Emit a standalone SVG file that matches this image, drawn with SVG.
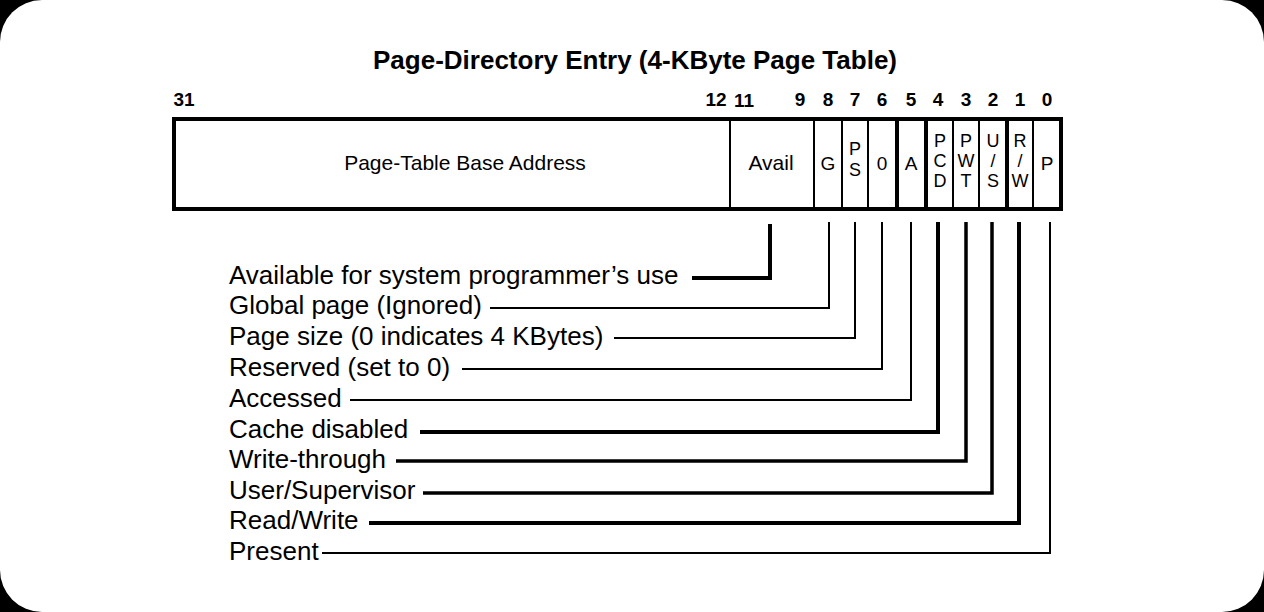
<svg xmlns="http://www.w3.org/2000/svg" width="1264" height="612" viewBox="0 0 1264 612">
<style>
text{font-family:"Liberation Sans",Arial,sans-serif;fill:#000}
.title{font-size:26px;font-weight:bold;text-anchor:middle}
.bit{font-size:19px;font-weight:bold;text-anchor:middle}
.cell{font-size:21px;text-anchor:middle}
.ltr{font-size:19px;text-anchor:middle}
.stk{font-size:18px;text-anchor:middle}
.lab{font-size:26px}
.thin{stroke:#000;stroke-width:2;fill:none}
.thick{stroke:#000;stroke-width:4;fill:none}
.mid{stroke:#000;stroke-width:3.5;fill:none}
</style>
<rect x="0" y="0" width="1264" height="612" fill="#000"/>
<rect x="0" y="0" width="1264" height="612" rx="42" ry="42" fill="#fff"/>
<text class="title" x="635" y="69">Page-Directory Entry (4-KByte Page Table)</text>
<g id="bits">
<text class="bit" x="184" y="106">31</text>
<text class="bit" x="716" y="106">12</text>
<text class="bit" x="744" y="107">11</text>
<text class="bit" x="800" y="106">9</text>
<text class="bit" x="828" y="106">8</text>
<text class="bit" x="855" y="106">7</text>
<text class="bit" x="882" y="106">6</text>
<text class="bit" x="911" y="106">5</text>
<text class="bit" x="938" y="106">4</text>
<text class="bit" x="966" y="106">3</text>
<text class="bit" x="993" y="106">2</text>
<text class="bit" x="1020" y="106">1</text>
<text class="bit" x="1047" y="106">0</text>
</g>
<g id="register">
<rect x="174" y="119" width="887" height="90" fill="#fff" stroke="#000" stroke-width="4"/>
<line class="thin" x1="730" y1="119" x2="730" y2="209"/>
<line class="thin" x1="814" y1="119" x2="814" y2="209"/>
<line class="thin" x1="842" y1="119" x2="842" y2="209"/>
<line class="thin" x1="868" y1="119" x2="868" y2="209"/>
<line class="thick" x1="897" y1="119" x2="897" y2="209"/>
<line class="thick" x1="926" y1="119" x2="926" y2="209"/>
<line class="thin" x1="953" y1="119" x2="953" y2="209"/>
<line class="thin" x1="979" y1="119" x2="979" y2="209"/>
<line class="thick" x1="1007" y1="119" x2="1007" y2="209"/>
<line class="thin" x1="1033" y1="119" x2="1033" y2="209"/>
</g>
<g id="f-base"><text class="cell" x="465" y="170">Page-Table Base Address</text></g>
<g id="f-avail"><text class="cell" x="771" y="170">Avail</text></g>
<g id="f-g"><text class="ltr" x="828" y="170">G</text></g>
<g id="f-ps"><text class="stk" x="855" y="155">P</text><text class="stk" x="855" y="176">S</text></g>
<g id="f-0"><text class="ltr" x="882" y="170">0</text></g>
<g id="f-a"><text class="ltr" x="911" y="170">A</text></g>
<g id="f-pcd"><text class="stk" x="940" y="147">P</text><text class="stk" x="940" y="167">C</text><text class="stk" x="940" y="187">D</text></g>
<g id="f-pwt"><text class="stk" x="966" y="147">P</text><text class="stk" x="966" y="167">W</text><text class="stk" x="966" y="187">T</text></g>
<g id="f-us"><text class="stk" x="993" y="147">U</text><text class="stk" x="993" y="167">/</text><text class="stk" x="993" y="187">S</text></g>
<g id="f-rw"><text class="stk" x="1020" y="147">R</text><text class="stk" x="1020" y="167">/</text><text class="stk" x="1020" y="187">W</text></g>
<g id="f-p"><text class="ltr" x="1047" y="170">P</text></g>
<g id="labels">
<text class="lab" x="229" y="284">Available for system programmer’s use</text>
<text class="lab" x="229" y="314">Global page (Ignored)</text>
<text class="lab" x="229" y="345">Page size (0 indicates 4 KBytes)</text>
<text class="lab" x="229" y="376">Reserved (set to 0)</text>
<text class="lab" x="229" y="407">Accessed</text>
<text class="lab" x="229" y="438">Cache disabled</text>
<text class="lab" x="229" y="468">Write-through</text>
<text class="lab" x="229" y="499">User/Supervisor</text>
<text class="lab" x="229" y="529">Read/Write</text>
<text class="lab" x="229" y="560">Present</text>
</g>
<g id="connectors">
<polyline class="thick" points="692,278 770,278 770,224"/>
<polyline class="thin" points="490,308 829,308 829,222"/>
<polyline class="thin" points="614,338 855,338 855,222"/>
<polyline class="thin" points="462,369 882,369 882,222"/>
<polyline class="thin" points="350,400 911,400 911,222"/>
<polyline class="thick" points="420,432 938,432 938,222"/>
<polyline class="mid" points="396,461 966,461 966,222"/>
<polyline class="mid" points="423,493 992,493 992,222"/>
<polyline class="thick" points="369,523 1019,523 1019,222"/>
<polyline class="thin" points="322,553 1050,553 1050,222"/>
</g>
</svg>
